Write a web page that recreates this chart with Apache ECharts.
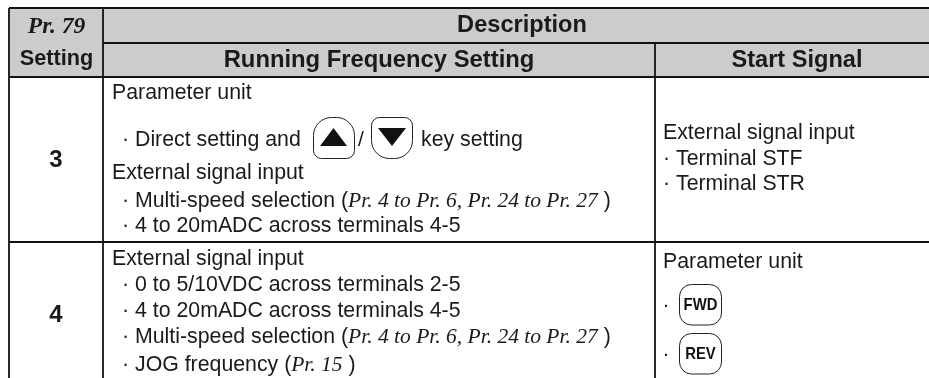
<!DOCTYPE html>
<html><head><meta charset="utf-8">
<style>html,body{margin:0;padding:0;background:#fff}#c{width:929px;height:378px}</style>
<script src="https://cdn.jsdelivr.net/npm/echarts@6/dist/echarts.min.js"></script></head>
<body><div id="c"></div>
<script>
const headerTop = ["Pr. 79", "Setting"];
const headerDesc = "Description";
const headerSub = ["Running Frequency Setting", "Start Signal"];
const settings = ["3", "4"];
const row3Freq = [
  [["n","Parameter unit"]],
  [["n","· Direct setting and"]],
  [["n","External signal input"]],
  [["n","· Multi-speed selection ("],["i","Pr. 4 to Pr. 6, Pr. 24 to Pr. 27"],["n"," )"]],
  [["n","· 4 to 20mADC across terminals 4-5"]]
];
const row3KeyTail = ["/", "key setting"];
const row3Start = ["External signal input","· Terminal STF","· Terminal STR"];
const row4Freq = [
  [["n","External signal input"]],
  [["n","· 0 to 5/10VDC across terminals 2-5"]],
  [["n","· 4 to 20mADC across terminals 4-5"]],
  [["n","· Multi-speed selection ("],["i","Pr. 4 to Pr. 6, Pr. 24 to Pr. 27"],["n"," )"]],
  [["n","· JOG frequency ("],["i","Pr. 15"],["n"," )"]]
];
const row4Start = ["Parameter unit"];
const row4Keys = ["FWD","REV"];

const SANS='"Liberation Sans",Arial,sans-serif', SERIF='"Liberation Serif","Times New Roman",serif';
const INK='#111';
const X={l:9,c1:103,c2:655,r:929}, Y={t:8,h1:43,h2:77,r1:242,b:378};
const g=[];
function rect(x,y,w,h,fill){g.push({type:'rect',shape:{x,y,width:w,height:h},style:{fill},silent:true,z:1});}
function line(a,b,c,d){g.push({type:'line',shape:{x1:a,y1:b,x2:c,y2:d},style:{stroke:INK,lineWidth:1.8},z:5});}
const rich={n:{fontFamily:SANS,fontSize:21.3,fill:'#1a1a1a',lineHeight:24},i:{fontFamily:SERIF,fontStyle:'italic',fontSize:21.5,fill:'#1a1a1a',lineHeight:24}};
function label(segs,x,y){
  const text=segs.map(s=>'{'+s[0]+'|'+s[1]+'}').join('');
  g.push({type:'text',x,y,style:{text,rich,textAlign:'left',textVerticalAlign:'middle'},z:10});
}
function plain(t,x,y,o){
  g.push({type:'text',x,y,scaleX:o.sx||1,style:{text:t,fontFamily:o.ff||SANS,fontWeight:o.w||'normal',fontStyle:o.st||'normal',fontSize:o.s,fill:o.c||'#1a1a1a',textAlign:o.a||'center',textVerticalAlign:'middle'},z:10});
}
rect(X.l,Y.t,X.r-X.l,Y.h2-Y.t,'#cccccc');
[[X.l,Y.t,X.r,Y.t],[X.c1,Y.h1,X.r,Y.h1],[X.l,Y.h2,X.r,Y.h2],[X.l,Y.r1,X.r,Y.r1],
 [X.l,Y.t,X.l,Y.b],[X.c1,Y.t,X.c1,Y.b],[X.c2,Y.h1,X.c2,Y.b]].forEach(a=>line(...a));

plain(headerTop[0],56.5,27,{ff:SERIF,st:'italic',w:'bold',s:23.5});
plain(headerTop[1],56.5,59,{w:'bold',s:21.7});
plain(headerDesc,522,25,{w:'bold',s:23.6});
plain(headerSub[0],379,60,{w:'bold',s:23.8});
plain(headerSub[1],797,60,{w:'bold',s:23.6});
plain(settings[0],56,160,{w:'bold',s:24});
plain(settings[1],56,315,{w:'bold',s:24});

const TX=112, TS=663;
const r3y=[93.5,140.5,173.5,201.5,226.5], r4y=[259,285,311,337,365];
row3Freq.forEach((s,i)=>label(s,i==0||i==2?TX:TX+10,r3y[i]));
row4Freq.forEach((s,i)=>label(s,i==0?TX:TX+10,r4y[i]));
row3Start.forEach((t,i)=>label([["n",t]],TS,[133,159,184][i]));
row4Start.forEach(t=>label([["n",t]],TS,262));
plain("·",666,305,{s:21});
plain("·",666,354,{s:21});

function key(x,y,w,h,r){g.push({type:'rect',shape:{x,y,width:w,height:h,r},style:{fill:'#fff',stroke:'#222',lineWidth:1},z:6});}
key(313.5,117.5,41,41,[18,18,8,8]); key(371.5,117.5,41,41,[8,8,18,18]);
g.push({type:'polygon',shape:{points:[[333.5,128],[347,146],[320,146]]},style:{fill:'#111'},z:7});
g.push({type:'polygon',shape:{points:[[378,128],[406,128],[392,146]]},style:{fill:'#111'},z:7});
plain(row3KeyTail[0],361,140.5,{s:21});
label([["n",row3KeyTail[1]]],421,140.5);
key(679.5,284.5,42,40.5,12); key(679.5,333.5,42,40.5,12);
plain(row4Keys[0],700.5,305,{w:'bold',s:16.5,c:'#111',sx:0.9});
plain(row4Keys[1],700.5,354,{w:'bold',s:16.5,c:'#111',sx:0.9});

const chart=echarts.init(document.getElementById('c'),null,{renderer:'canvas'});
chart.setOption({animation:false,backgroundColor:'#fff',graphic:{elements:g}});
</script></body></html>
